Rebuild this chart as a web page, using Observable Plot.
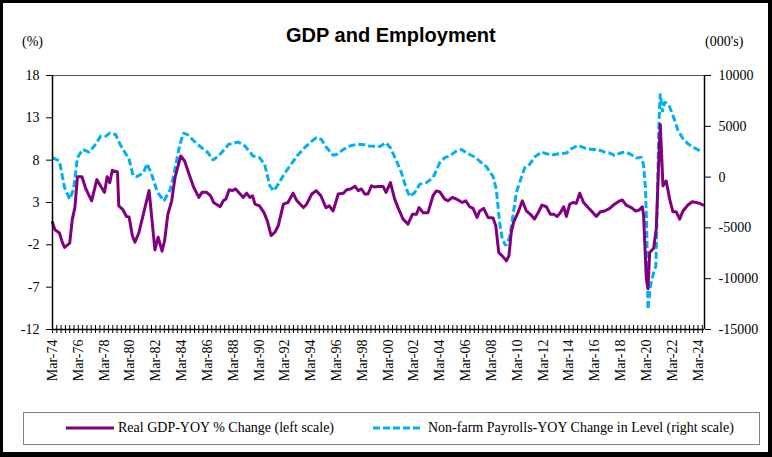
<!DOCTYPE html>
<html><head><meta charset="utf-8">
<script src="https://cdn.jsdelivr.net/npm/d3@7"></script>
<script src="https://cdn.jsdelivr.net/npm/@observablehq/plot@0.6"></script>
<style>
body{margin:0;background:#fff;}
#wrap{position:relative;width:772px;height:457px;overflow:hidden;background:#fff;}
#frame{position:absolute;left:0;top:0;width:772px;height:457px;box-sizing:border-box;border:3px solid #000;border-right-width:4px;border-bottom-width:5px;pointer-events:none;}
.t{position:absolute;font-family:"Liberation Serif","Times New Roman",serif;font-size:14px;line-height:16px;color:#000;white-space:nowrap;}
#title{position:absolute;left:286px;top:24px;font-family:"Liberation Sans",Arial,sans-serif;font-weight:bold;font-size:20px;line-height:22px;white-space:nowrap;color:#000;}
#chart{position:absolute;left:0;top:0;}
#chart svg text{font-family:"Liberation Serif","Times New Roman",serif;}
#legend{position:absolute;left:23px;top:412px;width:737px;height:33px;box-sizing:border-box;border:1.5px solid #808080;}
.sw{position:absolute;}
</style></head>
<body>
<div id="wrap">
  <div id="chart"></div>
  <div id="title">GDP and Employment</div>
  <div class="t" style="left:22px;top:34px;">(%)</div>
  <div class="t" style="left:705px;top:34px;">(000's)</div>
  <div id="legend"></div>
  <svg class="sw" style="left:66px;top:420px;" width="48" height="16"><line x1="0" y1="8" x2="48" y2="8" stroke="#800080" stroke-width="3"/></svg>
  <div class="t" style="left:118px;top:420px;">Real GDP-YOY % Change (left scale)</div>
  <svg class="sw" style="left:373px;top:420px;" width="50" height="16"><line x1="0" y1="8" x2="50" y2="8" stroke="#00B0F0" stroke-width="3" stroke-dasharray="7,3"/></svg>
  <div class="t" style="left:428px;top:420px;">Non-farm Payrolls-YOY Change in Level (right scale)</div>
  <div id="frame"></div>
</div>
<script>
// Real GDP year-over-year % change (left scale); time as decimal year
const gdpTime = [1974.17,1974.35,1974.7,1974.95,1975.1,1975.5,1975.7,1975.9,1976.1,1976.45,1976.75,1977.2,1977.6,1977.95,1978.2,1978.4,1978.6,1978.8,1979.2,1979.3,1979.6,1979.9,1980.1,1980.35,1980.55,1980.85,1981.2,1981.65,1982.1,1982.35,1982.65,1982.85,1983.1,1983.4,1983.65,1984.1,1984.4,1984.8,1985.1,1985.5,1985.75,1986.1,1986.4,1986.65,1987.15,1987.4,1987.6,1987.85,1988.1,1988.35,1988.7,1988.95,1989.2,1989.45,1989.66,1989.85,1990.2,1990.55,1990.8,1991.1,1991.4,1991.65,1992.05,1992.4,1992.8,1993.1,1993.6,1993.85,1994.25,1994.6,1994.95,1995.35,1995.6,1995.9,1996.3,1996.7,1996.95,1997.25,1997.6,1997.85,1998.1,1998.35,1998.6,1998.87,1999.1,1999.4,1999.77,2000.0,2000.34,2000.67,2000.93,2001.32,2001.7,2002.04,2002.35,2002.56,2002.87,2003.25,2003.64,2003.9,2004.16,2004.55,2004.8,2005.14,2005.58,2005.9,2006.17,2006.48,2006.74,2007.05,2007.25,2007.56,2007.9,2008.29,2008.5,2008.73,2009.0,2009.32,2009.52,2009.7,2009.88,2010.22,2010.56,2010.87,2011.18,2011.5,2011.77,2012.08,2012.42,2012.73,2013.0,2013.25,2013.5,2013.76,2013.97,2014.23,2014.49,2014.74,2015.0,2015.3,2015.65,2016.03,2016.29,2016.6,2016.94,2017.32,2017.7,2018.1,2018.3,2018.6,2019.0,2019.33,2019.6,2019.85,2019.95,2020.16,2020.29,2020.42,2020.73,2020.93,2021.14,2021.24,2021.45,2021.7,2021.97,2022.22,2022.48,2022.74,2023.0,2023.38,2023.72,2024.03,2024.29,2024.54];
const gdpValues = [0.65,-0.2,-0.6,-1.8,-2.3,-1.8,1.0,2.4,6.05,6.05,4.6,3.2,5.7,4.8,4.2,6.05,5.35,6.8,6.6,2.6,2.2,1.35,1.3,-0.9,-1.7,-0.6,1.6,4.4,-2.6,-1.1,-2.75,-1.5,1.6,3.2,5.9,8.5,7.9,6.1,4.8,3.6,4.2,4.2,3.8,3.0,2.5,3.2,3.4,4.5,4.4,4.6,4.0,3.6,4.1,3.6,3.8,2.8,2.6,1.8,0.85,-0.9,-0.5,0.25,2.8,3.0,4.1,3.2,2.4,2.8,4.0,4.4,3.8,2.4,2.6,2.0,4.0,4.1,4.5,4.6,4.9,4.4,4.6,4.0,4.0,4.96,4.84,4.9,4.9,4.2,5.35,3.4,2.4,1.04,0.45,1.6,1.6,2.4,1.8,1.8,3.8,4.37,4.25,3.4,3.2,3.6,3.3,3.0,3.2,2.5,2.3,1.24,2.0,2.3,1.24,1.16,0.25,-2.9,-3.3,-3.9,-3.3,-0.5,0.65,1.8,3.2,2.0,1.6,1.04,1.75,2.7,2.5,1.6,1.6,1.35,1.8,2.5,1.35,2.8,3.0,2.9,4.1,3.0,2.4,1.8,1.35,1.9,2.0,2.3,2.8,3.2,3.3,2.7,2.4,2.0,2.1,2.5,1.43,-6.0,-7.2,-2.9,-2.4,-0.1,8.5,12.2,4.96,5.55,3.4,1.9,1.9,1.04,2.0,2.7,3.08,3.0,2.9,2.7];

// Non-farm payrolls year-over-year change in level, thousands (right scale)
const payTime = [1974.17,1974.7,1975.1,1975.5,1975.8,1976.1,1976.5,1977.0,1977.4,1977.9,1978.3,1978.6,1979.05,1979.4,1980.1,1980.4,1980.7,1981.2,1981.5,1981.9,1982.3,1982.8,1983.3,1983.6,1984.0,1984.3,1984.6,1985.4,1986.2,1986.6,1987.15,1987.8,1988.55,1989.07,1989.7,1990.2,1990.6,1991.0,1991.3,1991.65,1992.1,1992.55,1993.1,1993.7,1994.25,1994.6,1995.0,1995.4,1995.9,1996.2,1996.7,1997.2,1997.7,1998.2,1998.7,1999.5,1999.98,2000.34,2000.75,2001.2,2001.58,2001.84,2002.22,2002.61,2003.13,2003.64,2004.16,2004.55,2004.93,2005.45,2005.84,2006.22,2006.95,2007.38,2007.77,2008.29,2008.54,2008.8,2009.0,2009.27,2009.58,2009.83,2010.09,2010.48,2010.74,2011.12,2011.5,2012.03,2012.42,2012.94,2013.45,2013.97,2014.36,2014.87,2015.52,2016.03,2016.42,2016.94,2017.32,2017.7,2018.22,2018.6,2019.0,2019.38,2019.77,2019.95,2020.1,2020.21,2020.29,2020.47,2020.73,2020.9,2020.98,2021.14,2021.24,2021.4,2021.58,2021.91,2022.22,2022.61,2023.0,2023.38,2023.77,2024.16,2024.42];
const payValues = [1917,1583,-1033,-2167,-1192,1917,2725,2467,3058,4033,4033,4333,4200,3217,1750,167,50,417,1333,50,-1500,-2333,-1192,417,3058,4333,4200,3217,2417,1667,2250,3217,3450,3058,2083,1917,1250,-867,-1358,-700,275,1083,2083,2892,3542,3875,3708,2892,2142,2250,2725,3058,3217,3217,3058,3000,3383,2892,1750,417,-1192,-1917,-1517,-700,-542,-50,1417,1917,2083,2567,2725,2400,1917,1417,1033,50,-1192,-4458,-6083,-6750,-5917,-3808,-1517,-50,917,1250,1968,2462,2297,2198,2297,2363,2792,3121,2792,2726,2693,2462,2363,2132,2396,2462,2198,1869,1968,1143,-1164,-6108,-13029,-10720,-9400,-8744,-4460,5428,8230,6417,7406,7076,6088,4604,3780,3286,2956,2693,2462];

const leftTicks = [-12, -7, -2, 3, 8, 13, 18];
const rightTicks = [-15000, -10000, -5000, 0, 5000, 10000];
const xStart = 1974 + 2/12;   // Mar-74
const xEnd = 2024 + 8/12;     // Sep-24
const labelYears = d3.range(1974, 2025, 2);

const gdp = gdpTime.map((t, i) => ({t, v: gdpValues[i]}));
const pay = payTime.map((t, i) => ({t, v: payValues[i]}));

// right scale mapped onto left scale: -15000 -> -12, 10000 -> 18
const toLeft = p => -12 + (p + 15000) * 30 / 25000;
const fromLeft = g => Math.round((g + 12) * 25000 / 30 - 15000);

const labelTicks = labelYears.map(y => y + 2/12);
const minorTicks = d3.range(0, 152).map(k => xStart + k / 3).filter(t => t <= xEnd + 1e-6);

const chart = Plot.plot({
  width: 772, height: 410,
  marginLeft: 52, marginRight: 68, marginTop: 75, marginBottom: 81,
  style: {fontFamily: "Liberation Serif, Times New Roman, serif", fontSize: "14px", background: "transparent", color: "#000"},
  x: {type: "linear", domain: [xStart, xEnd]},
  y: {domain: [-12, 18]},
  marks: [
    Plot.ruleY([18], {stroke: "#555", strokeWidth: 1}),
    Plot.line(pay, {x: "t", y: d => toLeft(d.v), stroke: "#00B0F0", strokeWidth: 3, strokeDasharray: "7,3", strokeLinecap: "butt", strokeLinejoin: "miter"}),
    Plot.line(gdp, {x: "t", y: "v", stroke: "#800080", strokeWidth: 3, strokeLinejoin: "round"}),
    Plot.ruleY([-12], {stroke: "#000", strokeWidth: 1.5}),
    Plot.ruleX([xStart], {stroke: "#000", strokeWidth: 1.5}),
    Plot.ruleX([xEnd], {stroke: "#000", strokeWidth: 1.5}),
    Plot.axisY(leftTicks, {anchor: "left", tickSize: 6, tickPadding: 7, label: null, fontSize: 14, tickFormat: d => String(d)}),
    Plot.axisY(rightTicks.map(toLeft), {anchor: "right", tickSize: 6, tickPadding: 8, label: null, fontSize: 14, tickFormat: d => String(fromLeft(d))}),
    Plot.axisX(minorTicks, {anchor: "bottom", tickSize: 8, dy: -4, label: null, tickFormat: () => ""}),
    Plot.axisX(labelTicks, {anchor: "bottom", tickSize: 0, tickPadding: 10, tickRotate: -90, label: null, fontSize: 14,
      tickFormat: d => "Mar-" + String(Math.round(d - 2/12) % 100).padStart(2, "0")})
  ]
});
document.getElementById("chart").appendChild(chart);
</script>
</body></html>
